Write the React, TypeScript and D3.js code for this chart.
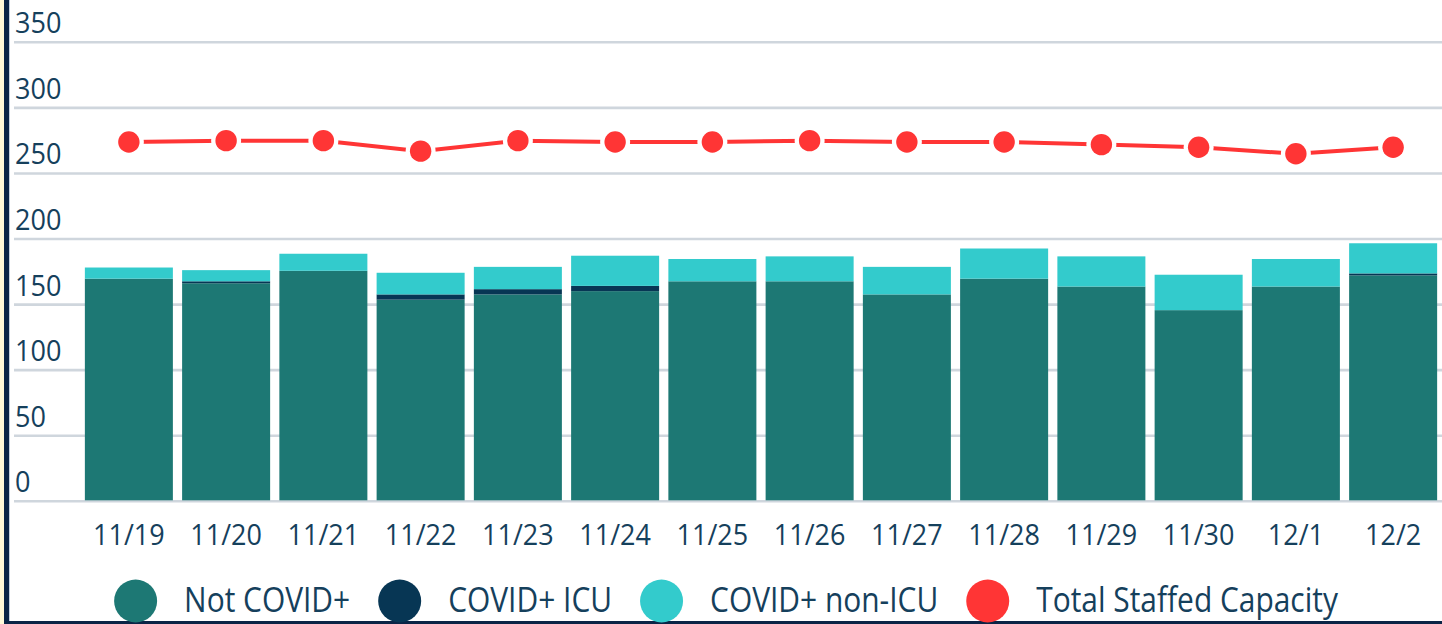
import React, { useRef, useEffect } from "react";
import * as d3 from "d3";

const dates = ["11/19", "11/20", "11/21", "11/22", "11/23", "11/24", "11/25", "11/26", "11/27", "11/28", "11/29", "11/30", "12/1", "12/2"];
const notCovid = [169, 165.5, 175, 153, 157, 159.5, 167, 167, 157, 169, 163, 145, 163, 171.5];
const covidIcu = [0, 1.5, 0, 4, 4, 4, 0, 0, 0, 0, 0, 0, 0, 1.5];
const covidNonIcu = [8.5, 8.5, 13, 16.5, 17, 23, 17, 19, 21, 23, 23, 27, 21, 23];
const capacity = [274, 275, 275, 267, 275, 274, 274, 275, 274, 274, 272, 270, 265, 270];
const yTicks = [0, 50, 100, 150, 200, 250, 300, 350];

const seriesNames = ["Not COVID+", "COVID+ ICU", "COVID+ non-ICU", "Total Staffed Capacity"];
const seriesColors = ["#1d7874", "#073654", "#33cbcc", "#ff3535"];

const TEXT = "#15405c";
const FONT = "'Open Sans', sans-serif";

const App = () => {
  const svgRef = useRef<SVGSVGElement>(null);
  const width = 1442;
  const height = 624;

  useEffect(() => {
    const svg = d3.select(svgRef.current).append("g");

    const rows = dates.map((d, i) => ({
      date: d,
      notCovid: notCovid[i],
      icu: covidIcu[i],
      nonIcu: covidNonIcu[i],
    }));

    const x = d3.scaleBand().domain(dates).range([80, width]).paddingInner(0.095).paddingOuter(0.05);
    const y = d3.scaleLinear().domain([0, 350]).range([501.3, 42.3]);

    // frame
    svg.append("rect").attr("x", 0).attr("y", 0).attr("width", 4).attr("height", height).attr("fill", "#fff8d8");
    svg.append("rect").attr("x", 4).attr("y", 0).attr("width", 5).attr("height", height).attr("fill", "#0a2446");
    svg.append("rect").attr("x", 4).attr("y", 621).attr("width", width).attr("height", 3).attr("fill", "#0a2446");
    svg.append("rect").attr("x", 9).attr("y", 0).attr("width", 1).attr("height", 621).attr("fill", "#c3cedb");

    // grid + y labels
    yTicks.forEach((t) => {
      svg.append("line")
        .attr("x1", 14).attr("x2", width)
        .attr("y1", y(t)).attr("y2", y(t))
        .attr("stroke", "#cfd6dd").attr("stroke-width", 2.6);
      svg.append("text")
        .attr("transform", `translate(15,${y(t) - 9}) scale(0.95,1)`)
        .attr("font-family", FONT).attr("font-size", 28.5).attr("fill", TEXT)
        .text(t);
    });

    // stacked bars
    const stack = d3.stack().keys(["notCovid", "icu", "nonIcu"]);
    const layers = stack(rows as any);
    svg.selectAll("g.layer")
      .data(layers)
      .enter()
      .append("g")
      .attr("fill", (d, i) => seriesColors[i])
      .selectAll("rect")
      .data((d) => d)
      .enter()
      .append("rect")
      .attr("x", (d: any) => x(d.data.date))
      .attr("width", x.bandwidth())
      .attr("y", (d) => y(d[1]))
      .attr("height", (d) => Math.max(0, y(d[0]) - y(d[1])))
      .attr("transform", "translate(0,-1)");

    // x labels
    dates.forEach((d) => {
      svg.append("text")
        .attr("transform", `translate(${x(d) + x.bandwidth() / 2},545) scale(0.93,1)`)
        .attr("text-anchor", "middle")
        .attr("font-family", FONT).attr("font-size", 29).attr("fill", TEXT)
        .text(d);
    });

    // capacity line
    const cx = (i: number) => x(dates[i]) + x.bandwidth() / 2;
    const line = d3.line<number>().x((d, i) => cx(i)).y((d) => y(d));
    svg.append("path")
      .datum(capacity)
      .attr("d", line)
      .attr("fill", "none")
      .attr("stroke", seriesColors[3])
      .attr("stroke-width", 4);
    svg.selectAll("circle.halo")
      .data(capacity)
      .enter()
      .append("circle")
      .attr("cx", (d, i) => cx(i)).attr("cy", (d) => y(d))
      .attr("r", 15).attr("fill", "#fff");
    svg.selectAll("circle.pt")
      .data(capacity)
      .enter()
      .append("circle")
      .attr("cx", (d, i) => cx(i)).attr("cy", (d) => y(d))
      .attr("r", 10.7).attr("fill", seriesColors[3]);

    // legend
    const legend = svg.append("g");
    const r = 21.5;
    const gapText = 27;
    const gapItem = 28;
    const sx = 0.855;
    let pos = 0;
    seriesNames.forEach((name, i) => {
      legend.append("circle").attr("cx", pos + r).attr("cy", 601).attr("r", r).attr("fill", seriesColors[i]);
      const t = legend.append("text")
        .attr("transform", `translate(${pos + 2 * r + gapText},612) scale(${sx},1)`)
        .attr("font-family", FONT).attr("font-size", 35).attr("fill", TEXT)
        .text(name);
      const w = (t.node() as SVGTextElement).getComputedTextLength() * sx;
      pos += 2 * r + gapText + w + gapItem;
    });
    const total = pos - gapItem;
    legend.attr("transform", `translate(${726 - total / 2},0)`);

    return () => {
      svg.remove();
    };
  }, []);

  return (
    <svg
      ref={svgRef}
      width={width}
      height={height}
      style={{ position: "absolute", left: 0, top: 0, background: "#fff" }}
    />
  );
};

export default App;
